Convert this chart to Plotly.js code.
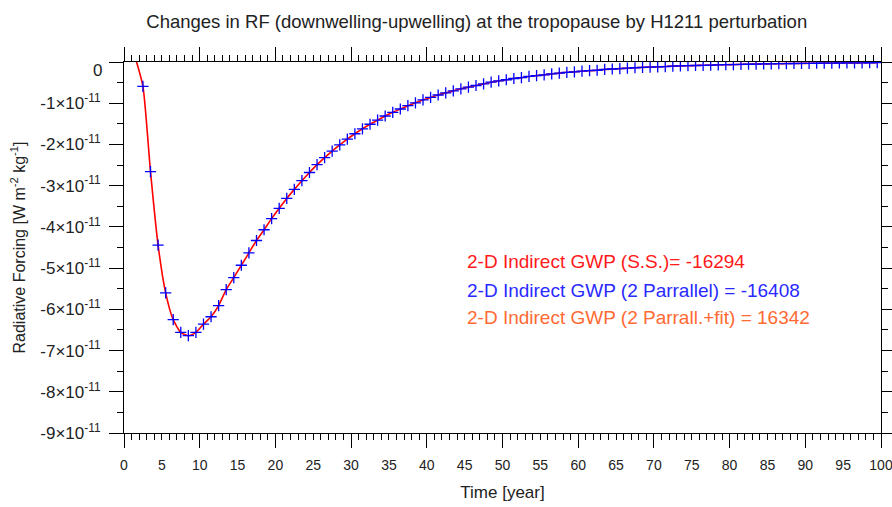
<!DOCTYPE html>
<html>
<head>
<meta charset="utf-8">
<script src="https://cdn.plot.ly/plotly-3.0.1.min.js"></script>
<style>html,body{margin:0;padding:0;background:#fff;}#chart{width:892px;height:507px;}</style>
</head>
<body>
<div id="chart"></div>
<script>
// Time axis (mid-year points), years
const years = [1.5,2.5,3.5,4.5,5.5,6.5,7.5,8.5,9.5,10.5,11.5,12.5,13.5,14.5,15.5,16.5,17.5,18.5,19.5,20.5,
  21.5,22.5,23.5,24.5,25.5,26.5,27.5,28.5,29.5,30.5,31.5,32.5,33.5,34.5,35.5,36.5,37.5,38.5,39.5,40.5,
  41.5,42.5,43.5,44.5,45.5,46.5,47.5,48.5,49.5,50.5,51.5,52.5,53.5,54.5,55.5,56.5,57.5,58.5,59.5,60.5,
  61.5,62.5,63.5,64.5,65.5,66.5,67.5,68.5,69.5,70.5,71.5,72.5,73.5,74.5,75.5,76.5,77.5,78.5,79.5,80.5,
  81.5,82.5,83.5,84.5,85.5,86.5,87.5,88.5,89.5,90.5,91.5,92.5,93.5,94.5,95.5,96.5,97.5,98.5,99.5];
// Radiative forcing, in units of 1e-11 W m-2 kg-1 (S.S. curve)
const rfSS = [0.10,-0.59,-2.66,-4.44,-5.60,-6.25,-6.56,-6.64,-6.56,-6.36,-6.18,-5.91,-5.52,-5.23,-4.93,-4.63,-4.33,-4.07,-3.80,-3.55,
  -3.31,-3.09,-2.88,-2.68,-2.49,-2.32,-2.16,-2.01,-1.87,-1.74,-1.62,-1.51,-1.41,-1.31,-1.22,-1.14,-1.06,-0.99,-0.92,-0.86,
  -0.80,-0.75,-0.70,-0.65,-0.61,-0.57,-0.53,-0.49,-0.46,-0.43,-0.40,-0.38,-0.35,-0.33,-0.31,-0.29,-0.27,-0.25,-0.24,-0.22,
  -0.21,-0.20,-0.18,-0.17,-0.16,-0.15,-0.14,-0.13,-0.125,-0.12,-0.11,-0.10,-0.095,-0.09,-0.085,-0.08,-0.075,-0.07,-0.066,-0.062,
  -0.058,-0.054,-0.050,-0.047,-0.044,-0.041,-0.038,-0.036,-0.034,-0.032,-0.030,-0.028,-0.026,-0.024,-0.022,-0.021,-0.020,-0.018,-0.017];
// 2 Parallel run (annual markers)
const yearsPar = years.slice(1);
const rfPar = rfSS.slice(1);
const unit = 1e-11;

const yTickVals = [0,-1,-2,-3,-4,-5,-6,-7,-8,-9];
const yTickText = ['', '-1×10<sup>-11</sup>','-2×10<sup>-11</sup>','-3×10<sup>-11</sup>','-4×10<sup>-11</sup>',
  '-5×10<sup>-11</sup>','-6×10<sup>-11</sup>','-7×10<sup>-11</sup>','-8×10<sup>-11</sup>','-9×10<sup>-11</sup>'];
const xLabelVals = [0,5,10,15,20,25,30,35,40,45,50,55,60,65,70,75,80,85,90,95,100];

const legendLines = [
  {text:'2-D Indirect GWP (S.S.)= -16294', color:'#ff1a1a'},
  {text:'2-D Indirect GWP (2 Parrallel) = -16408', color:'#2a2aff'},
  {text:'2-D Indirect GWP (2 Parrall.+fit) = 16342', color:'#ff6a33'}
];

const FONT = 'Liberation Sans, Arial, Helvetica, sans-serif';

const traces = [
  {x: years, y: rfSS.map(v => v*unit), type:'scatter', mode:'lines',
   line:{color:'#ff0000', width:1.6, shape:'spline', smoothing:0.6}, xaxis:'x', yaxis:'y', hoverinfo:'skip'},
  {x: yearsPar, y: rfPar.map(v => v*unit), type:'scatter', mode:'markers',
   marker:{symbol:'cross-thin', size:8, line:{color:'#0000ff', width:1.3}, color:'#0000ff'},
   xaxis:'x2', yaxis:'y', hoverinfo:'skip'}
];

const annotations = legendLines.map((l, i) => ({
  xref:'paper', yref:'paper', x:0.4505, y:[0.461,0.385,0.310][i],
  xanchor:'left', yanchor:'middle', showarrow:false, text:l.text,
  font:{family:FONT, size:19, color:l.color}
}));
annotations.push({xref:'paper', yref:'y', x:-0.026, y:0, yshift:-8, xanchor:'right', yanchor:'middle',
  showarrow:false, text:'0', font:{family:FONT, size:17, color:'#222'}});

const layout = {
  width:892, height:507,
  margin:{l:124, r:11, t:62, b:74},
  paper_bgcolor:'#fff', plot_bgcolor:'#fff',
  showlegend:false,
  font:{family:FONT, color:'#222'},
  title:{text:'Changes in RF (downwelling-upwelling) at the tropopause by H1211 perturbation',
    font:{family:FONT, size:18.5, color:'#222'}, xref:'paper', x:0.466, xanchor:'center',
    yref:'container', y:0.957, yanchor:'middle'},
  xaxis:{range:[0,100], tickmode:'linear', tick0:0, dtick:10, ticks:'outside', ticklen:14, tickwidth:1,
    tickcolor:'#000', showticklabels:false, showline:true, linecolor:'#000', linewidth:1, mirror:'ticks',
    showgrid:false, zeroline:false,
    minor:{tickmode:'linear', tick0:0, dtick:1, ticks:'outside', ticklen:6, tickwidth:1, tickcolor:'#000', showgrid:false}},
  xaxis2:{range:[0,100], overlaying:'x', anchor:'y', side:'bottom', tickmode:'array', tickvals:xLabelVals,
    ticktext:xLabelVals.map(String), ticks:'outside', ticklen:15, tickcolor:'rgba(0,0,0,0)',
    showline:false, showgrid:false, zeroline:false, ticklabelstandoff:4, ticklabeloverflow:'allow',
    tickfont:{family:FONT, size:14, color:'#222'},
    title:{text:'Time [year]', font:{family:FONT, size:17, color:'#222'}, standoff:14}},
  yaxis:{range:[-9e-11, 0], tickmode:'array', tickvals:yTickVals.map(v => v*unit), ticktext:yTickText,
    ticks:'outside', ticklen:14, tickwidth:1, tickcolor:'#000', showline:true, linecolor:'#000', linewidth:1,
    mirror:'ticks', showgrid:false, zeroline:false, ticklabelstandoff:5,
    tickfont:{family:FONT, size:17, color:'#222'},
    minor:{tickmode:'linear', tick0:0, dtick:0.5e-11, ticks:'outside', ticklen:6, tickwidth:1, tickcolor:'#000', showgrid:false},
    title:{text:'Radiative Forcing [W m<sup>-2</sup> kg<sup>-1</sup>]', font:{family:FONT, size:16, color:'#222'}, standoff:10}},
  annotations: annotations
};

Plotly.newPlot('chart', traces, layout, {staticPlot:true, displayModeBar:false});
</script>
</body>
</html>
